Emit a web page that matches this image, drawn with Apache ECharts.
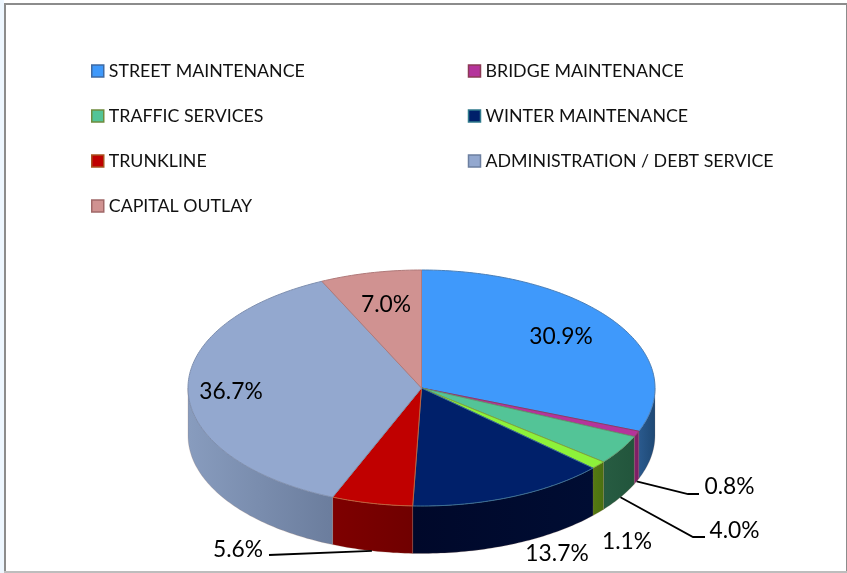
<!DOCTYPE html>
<html>
<head>
<meta charset="utf-8">
<style>html,body{margin:0;padding:0;background:#fff}#c{width:847px;height:573px}</style>
<script src="https://cdn.jsdelivr.net/npm/echarts@6/dist/echarts.min.js"></script>
</head>
<body>
<div id="c"></div>
<script>
// ---- data ----
var categories = ['STREET MAINTENANCE','BRIDGE MAINTENANCE','TRAFFIC SERVICES','OTHER','WINTER MAINTENANCE','TRUNKLINE','ADMINISTRATION / DEBT SERVICE','CAPITAL OUTLAY'];
var shares = [30.9,0.8,4.0,1.1,13.7,5.6,36.7,7.0];
var legendNames = ['STREET MAINTENANCE','BRIDGE MAINTENANCE','TRAFFIC SERVICES','WINTER MAINTENANCE','TRUNKLINE','ADMINISTRATION / DEBT SERVICE','CAPITAL OUTLAY'];

// ---- styles ----
var topColors = ['#3f99fb','#b5339b','#53c497','#8df23a','#00206a','#c00000','#93a8cf','#d09291'];
var edgeColors = ['#4a7fb8','#8f3a66','#5f9a70','#7fa83a','#3a6f94','#c0603a','#7f90b0','#b07a7a'];
var sideColors = [['#2a5a8e','#1e4874'],['#86206c','#7a1e62'],['#275c42','#22553c'],['#557a12','#4b7010'],['#00082a','#000d33'],['#7e0000','#700000'],['#889cbe','#6b7d9d'],['#8c6060','#8c6060']];
var legendBorders = ['#3f6aa3','#8c3a55','#6f8c3e','','#2f7a8c','#a8521e','#6c7fa0','#a06868'];

// ---- layout ----
var CX = 421.5, CY = 388, RX = 233.5, RY = 118, DEPTH = 47.5;
var FONT = '22.8px Lato, sans-serif';
var labelCenters = [[561,337],[729.5,487],[734.5,531],[627,542],[557,554],[238,550],[231,392],[386,305]];
var leaderBends = [null,[[688,494],[699,494]],[[693,537],[705,537]],null,null,[[269,555]],null,null];

var total = shares.reduce(function(a,b){return a+b;},0);
var starts = []; var acc = 0;
shares.forEach(function(v){ starts.push(acc); acc += v; });

function deg(v){ return v/total*360; }
function pt(t, dy){ var r=t*Math.PI/180; return [CX+RX*Math.sin(r), CY+(dy||0)-RY*Math.cos(r)]; }
function arc(a,b,dy){ var p=[]; var n=Math.max(2,Math.ceil(Math.abs(b-a))); for(var i=0;i<=n;i++){ p.push(pt(a+(b-a)*i/n,dy)); } return p; }

function makeRender(idx){
  return function(params, api){
    var v = api.value(0);
    var a = deg(starts[idx]), b = a + deg(v);
    var children = [];
    // side wall: visible only on the front half of the rim
    var sa = Math.max(a,90), sb = Math.min(b,270);
    if (sb > sa){
      var side = arc(sa,sb,0).concat(arc(sb,sa,DEPTH));
      children.push({type:'polygon',z2:1,shape:{points:side},style:{
        fill:{type:'linear',x:0,y:0,x2:1,y2:0,colorStops:[{offset:0,color:sideColors[idx][0]},{offset:1,color:sideColors[idx][1]}]},
        stroke:'rgba(150,110,90,0.35)',lineWidth:0.6}});
    }
    // top wedge
    children.push({type:'polygon',z2:2,shape:{points:[[CX,CY]].concat(arc(a,b,0))},style:{fill:topColors[idx],stroke:edgeColors[idx],lineWidth:1}});
    // leader line
    var bends = leaderBends[idx];
    if (bends){
      var m = pt((a+b)/2,DEPTH);
      children.push({type:'polyline',z2:5,shape:{points:[m].concat(bends)},style:{fill:null,stroke:'#000',lineWidth:1.8}});
    }
    // percentage label
    children.push({type:'text',z2:6,style:{x:labelCenters[idx][0],y:labelCenters[idx][1],text:v.toFixed(1)+'%',font:FONT,fill:'#000',align:'center',verticalAlign:'middle'}});
    return {type:'group',children:children};
  };
}

var series = categories.map(function(name,i){
  return {type:'custom',name:name,coordinateSystem:'none',silent:true,itemStyle:{color:topColors[i]},data:[shares[i]],renderItem:makeRender(i)};
});

var chart = echarts.init(document.getElementById('c'),null,{renderer:'canvas'});
chart.setOption({
  animation:false,
  backgroundColor:'#fff',
  graphic:[
    {type:'rect',z:-1,shape:{x:0,y:0,width:4,height:573},style:{fill:'#eef7ff'}},
    {type:'rect',z:-1,shape:{x:4,y:3,width:2,height:569},style:{fill:'#8c8c8c'}},
    {type:'rect',z:-1,shape:{x:4,y:3,width:843,height:2},style:{fill:'#8c8c8c'}},
    {type:'rect',z:-1,shape:{x:846,y:3,width:1,height:569},style:{fill:'#8c8c8c'}},
    {type:'rect',z:-1,shape:{x:4,y:571,width:843,height:2},style:{fill:'#bdbdbd'}}
  ],
  legend:{
    left:91,top:62,width:740,orient:'horizontal',align:'left',
    itemWidth:12,itemHeight:12,itemGap:27,padding:0,selectedMode:false,
    textStyle:{fontFamily:'Lato, sans-serif',fontSize:17.8,color:'#111',width:332,height:18,lineHeight:18,overflow:'none',padding:[0,0,0,0]},
    data:legendNames.map(function(n){
      var i = categories.indexOf(n);
      return {name:n,icon:'rect',itemStyle:{color:topColors[i],borderColor:legendBorders[i],borderWidth:1.5}};
    })
  },
  series:series
});
</script>
</body>
</html>
